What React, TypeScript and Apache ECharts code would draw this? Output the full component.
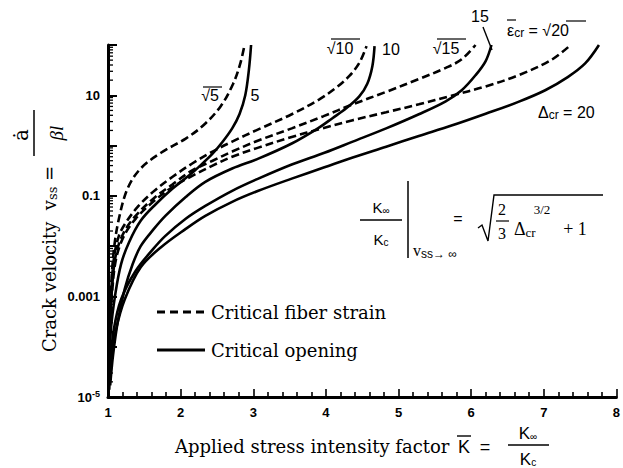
import React, { useEffect, useRef } from "react";
import * as echarts from "echarts";

// ---- data (K = K∞/Kc, v = crack velocity) ----
const fiberSqrt5 = [
  [1.007, 1.4e-5], [1.014, 1.4e-4], [1.041, 1.4e-3], [1.082, 8.7e-3], [1.15, 0.035],
  [1.27, 0.14], [1.45, 0.35], [1.73, 0.72], [2.07, 1.38], [2.31, 2.5], [2.55, 6.0],
  [2.72, 16.6], [2.82, 42], [2.88, 100],
];
const fiberSqrt10 = [
  [1.014, 8.7e-5], [1.04, 8.7e-4], [1.08, 5.5e-3], [1.15, 0.016], [1.25, 0.03],
  [1.42, 0.063], [1.62, 0.12], [1.89, 0.24], [2.16, 0.44], [2.44, 0.76], [2.71, 1.2],
  [3.07, 2.1], [3.53, 4.2], [3.91, 8.3], [4.15, 14.5], [4.32, 24], [4.46, 44], [4.56, 95],
];
const fiberSqrt15 = [
  [1.014, 3.5e-5], [1.027, 2.2e-4], [1.055, 1.4e-3], [1.11, 6.9e-3], [1.22, 0.019],
  [1.38, 0.04], [1.62, 0.087], [1.89, 0.17], [2.16, 0.32], [2.44, 0.5], [2.71, 0.76],
  [3.07, 1.26], [3.53, 2.2], [3.96, 3.8], [4.37, 6.6], [4.83, 11.7], [5.28, 21],
  [5.65, 35], [5.87, 52], [6.06, 100],
];
const fiberSqrt20 = [
  [1.014, 2.8e-5], [1.027, 1.7e-4], [1.055, 1.1e-3], [1.11, 5.5e-3], [1.22, 0.016],
  [1.38, 0.035], [1.62, 0.076], [1.89, 0.15], [2.16, 0.25], [2.44, 0.4], [2.71, 0.6],
  [3.07, 0.91], [3.53, 1.48], [3.95, 2.2], [4.37, 3.2], [4.83, 4.6], [5.28, 6.6],
  [5.73, 9.8], [6.2, 15], [6.65, 25], [7.1, 50], [7.37, 100],
];
const opening5 = [
  [1.014, 3.5e-5], [1.04, 2.2e-4], [1.1, 1.1e-3], [1.18, 4.4e-3], [1.29, 0.012],
  [1.45, 0.032], [1.66, 0.069], [1.89, 0.14], [2.11, 0.25], [2.27, 0.4], [2.44, 0.69],
  [2.57, 1.15], [2.71, 2.2], [2.81, 4.2], [2.89, 10], [2.94, 32], [2.97, 100],
];
const opening10 = [
  [1.03, 1.7e-5], [1.07, 6.9e-5], [1.14, 3.5e-4], [1.23, 1.4e-3], [1.34, 4.4e-3],
  [1.45, 0.01], [1.62, 0.021], [1.79, 0.04], [2.07, 0.095], [2.34, 0.19], [2.71, 0.35],
  [3.07, 0.55], [3.53, 1.1], [3.91, 2.3], [4.09, 3.5], [4.28, 5.5],
  [4.46, 9.5], [4.57, 17], [4.64, 38], [4.67, 95],
];
const opening15 = [
  [1.014, 1.4e-5], [1.03, 4.4e-5], [1.08, 2.2e-4], [1.18, 8.7e-4], [1.38, 3.2e-3],
  [1.62, 8.7e-3], [1.79, 0.016], [2.07, 0.035], [2.34, 0.063], [2.71, 0.126],
  [3.07, 0.22], [3.53, 0.42], [3.98, 0.72], [4.37, 1.2], [4.83, 2.2], [5.28, 4.2],
  [5.65, 7.6], [5.87, 12.6], [6.06, 25], [6.2, 48], [6.28, 100],
];
const opening20 = [
  [1.014, 1.4e-5], [1.04, 5.5e-5], [1.11, 2.2e-4], [1.23, 8.7e-4], [1.45, 3.8e-3],
  [1.73, 9.5e-3], [2.07, 0.022], [2.34, 0.04], [2.71, 0.076], [3.07, 0.126],
  [3.53, 0.22], [3.98, 0.37], [4.37, 0.58], [4.83, 0.95], [5.28, 1.55], [5.73, 2.5],
  [6.2, 4.3], [6.65, 7.4], [7.02, 12.6], [7.33, 23], [7.57, 43], [7.76, 100],
];

const xTicks = [1, 2, 3, 4, 5, 6, 7, 8];
const yLabelByExponent: Record<number, string> = {
  1: "10",
  [-1]: "0.1",
  [-3]: "0.001",
  [-5]: "10{sup|-5}",
};
const yDecades = [-5, -4, -3, -2, -1, 0, 1];
const yMinorMultipliers = [2, 3, 4, 5, 6, 7, 8, 9];

const SERIF = "'DejaVu Serif', 'Liberation Serif', serif";
const MSERIF = "'Liberation Serif', 'Times New Roman', serif";
const SANS = "'Liberation Sans', 'DejaVu Sans', Arial, sans-serif";

export default function App() {
  const ref = useRef<HTMLDivElement>(null);

  useEffect(() => {
    if (!ref.current) return;
    const chart = echarts.init(ref.current, null, { renderer: "svg" });

    const minorTickData: number[][] = [];
    yDecades.forEach((e) =>
      yMinorMultipliers.forEach((m) => minorTickData.push([xTicks[0], m * Math.pow(10, e)]))
    );

    const lineSeries = (name: string, data: number[][], dashed: boolean) => ({
      type: "line",
      name,
      data,
      symbol: "none",
      smooth: 0.35,
      silent: true,
      lineStyle: {
        color: "#000",
        width: 2.6,
        type: dashed ? [8, 4] : "solid",
        cap: "butt",
      },
      z: 3,
    });

    const txt = (text: string, x: number, y: number, extra: any = {}) => ({
      type: "text",
      x,
      y,
      silent: true,
      style: {
        text,
        fill: "#000",
        font: `15px ${SANS}`,
        textAlign: "center",
        textVerticalAlign: "middle",
        ...extra,
      },
    });
    const ln = (x1: number, y1: number, x2: number, y2: number, w = 1.4, dash?: number[]) => ({
      type: "line",
      silent: true,
      shape: { x1, y1, x2, y2 },
      style: { stroke: "#000", lineWidth: w, lineDash: dash },
    });

    const subRich = {
      sub: { fontSize: 10, fontFamily: SANS, verticalAlign: "bottom", padding: [6, 0, 0, 0] },
    };

    chart.setOption({
      animation: false,
      backgroundColor: "#fff",
      grid: { left: 108, right: 5, top: 45, bottom: 71, containLabel: false },
      xAxis: {
        type: "value",
        min: 1,
        max: 8,
        interval: 1,
        splitLine: { show: false },
        axisLine: { lineStyle: { color: "#000", width: 3 } },
        axisTick: { inside: true, length: 8, lineStyle: { color: "#000", width: 1.6 } },
        minorTick: { show: true, splitNumber: 5, length: 5, lineStyle: { color: "#000", width: 1.6 } },
        axisLabel: {
          color: "#000",
          fontFamily: SANS,
          fontWeight: "bold",
          fontSize: 13,
          margin: 9,
        },
      },
      yAxis: {
        type: "log",
        logBase: 10,
        min: 1e-5,
        max: 100,
        splitLine: { show: false },
        axisLine: { lineStyle: { color: "#000", width: 3 } },
        axisTick: { inside: true, length: 9, lineStyle: { color: "#000", width: 2 } },
        axisLabel: {
          color: "#000",
          fontFamily: SANS,
          fontWeight: "bold",
          fontSize: 13,
          margin: 8,
          formatter: (v: number) => {
            const e = Math.round(Math.log10(v));
            return yLabelByExponent[e] ?? "";
          },
          rich: {
            sup: {
              fontSize: 9,
              fontFamily: SANS,
              fontWeight: "bold",
              color: "#000",
              padding: [0, 0, 7, 0],
            },
          },
        },
      },
      series: [
        lineSeries("ε̄cr = √5", fiberSqrt5, true),
        lineSeries("ε̄cr = √10", fiberSqrt10, true),
        lineSeries("ε̄cr = √15", fiberSqrt15, true),
        lineSeries("ε̄cr = √20", fiberSqrt20, true),
        lineSeries("Δcr = 5", opening5, false),
        lineSeries("Δcr = 10", opening10, false),
        lineSeries("Δcr = 15", opening15, false),
        lineSeries("Δcr = 20", opening20, false),
        {
          type: "custom",
          name: "minor ticks",
          silent: true,
          clip: false,
          z: 5,
          data: minorTickData,
          renderItem: (params: any, api: any) => {
            const p = api.coord([api.value(0), api.value(1)]);
            return {
              type: "line",
              shape: { x1: p[0], y1: p[1], x2: p[0] + 5, y2: p[1] },
              style: { stroke: "#000", lineWidth: 1.3 },
            };
          },
        },
      ],
      graphic: [
        // curve labels
        txt("√5", 210, 95, { font: `16px ${SANS}` }),
        ln(203, 87, 222, 87, 1.2),
        txt("5", 255, 95, { font: `16px ${SANS}` }),
        txt("√10", 340, 48, { font: `16px ${SANS}` }),
        ln(331, 39, 360, 39, 1.2),
        txt("10", 391, 49, { font: `16px ${SANS}` }),
        txt("√15", 446, 48, { font: `16px ${SANS}` }),
        ln(437, 39, 466, 39, 1.2),
        txt("15", 480, 16, { font: `16px ${SANS}` }),
        ln(483, 27, 492, 50, 1.4),
        txt("ε{sub|cr} = √20", 507, 30, {
          textAlign: "left",
          font: `16px ${SANS}`,
          rich: { sub: { fontSize: 12, fontFamily: SANS, padding: [6, 0, 0, 0] } },
        }),
        ln(507, 20, 516, 20, 1.2),
        ln(566, 21, 586, 21, 1.2),
        txt("Δ{sub|cr} = 20", 538, 112, {
          textAlign: "left",
          font: `16px ${SANS}`,
          rich: { sub: { fontSize: 12, fontFamily: SANS, padding: [6, 0, 0, 0] } },
        }),

        // formula
        txt("K{sub|∞}", 381, 207, { rich: subRich }),
        ln(360, 220, 402, 220, 1.5),
        txt("K{sub|c}", 381, 239, { rich: subRich }),
        ln(408, 181, 408, 258, 1.5),
        txt("v{sub|ss→ ∞}", 413, 250, {
          textAlign: "left",
          font: `16px ${MSERIF}`,
          rich: { sub: { fontSize: 12, fontFamily: SANS, padding: [8, 0, 0, 0] } },
        }),
        txt("=", 458, 218, { font: `16px ${SANS}` }),
        {
          type: "polyline",
          silent: true,
          shape: { points: [[478, 228], [482, 225], [488, 241], [494, 195], [603, 195]] },
          style: { stroke: "#000", lineWidth: 1.4, fill: null },
        },
        txt("2", 502, 209, { font: `16px ${MSERIF}` }),
        ln(496, 221, 509, 221, 1.2),
        txt("3", 502, 233, { font: `16px ${MSERIF}` }),
        txt("Δ{sub|cr}", 514, 229, {
          textAlign: "left",
          font: `18px ${MSERIF}`,
          rich: { sub: { fontSize: 13, fontFamily: MSERIF, padding: [6, 0, 0, 0] } },
        }),
        txt("3/2", 542, 209, { font: `13px ${MSERIF}` }),
        txt("+ 1", 575, 229, { font: `18px ${MSERIF}` }),

        // legend
        ln(157, 312, 205, 312, 3, [8, 5]),
        txt("Critical fiber strain", 211, 312, { textAlign: "left", font: `18px ${SERIF}` }),
        ln(157, 350, 205, 350, 3),
        txt("Critical opening", 211, 350, { textAlign: "left", font: `18px ${SERIF}` }),

        // x axis title
        txt("Applied stress intensity factor", 175, 446, { textAlign: "left", font: `18px ${SERIF}` }),
        txt("K", 464, 447, { font: `18px ${SANS}` }),
        ln(457, 436, 471, 436, 1.4),
        txt("=", 485, 447, { font: `18px ${SANS}` }),
        txt("K{sub|∞}", 528, 433, { font: `17px ${SANS}`, rich: subRich }),
        ln(508, 445, 549, 445, 1.5),
        txt("K{sub|c}", 528, 459, { font: `17px ${SANS}`, rich: subRich }),

        // y axis title (rotated)
        {
          type: "text",
          x: 49,
          y: 259,
          rotation: Math.PI / 2,
          silent: true,
          style: {
            text: "Crack velocity  v{sub|ss} =",
            fill: "#000",
            font: `18px ${SERIF}`,
            textAlign: "center",
            textVerticalAlign: "middle",
            rich: { sub: { fontSize: 13, fontFamily: SERIF, padding: [7, 0, 0, 0] } },
          },
        },
        {
          type: "text",
          x: 21,
          y: 135,
          rotation: Math.PI / 2,
          silent: true,
          style: {
            text: "ȧ",
            fill: "#000",
            font: `20px ${SERIF}`,
            textAlign: "center",
            textVerticalAlign: "middle",
          },
        },
        ln(34, 110, 34, 156, 1.5),
        {
          type: "text",
          x: 56,
          y: 133,
          rotation: Math.PI / 2,
          silent: true,
          style: {
            text: "βl",
            fill: "#000",
            font: `italic 19px ${MSERIF}`,
            textAlign: "center",
            textVerticalAlign: "middle",
          },
        },
      ],
    });

    return () => chart.dispose();
  }, []);

  return <div ref={ref} style={{ width: 623, height: 468, position: "absolute", left: 0, top: 0 }} />;
}
